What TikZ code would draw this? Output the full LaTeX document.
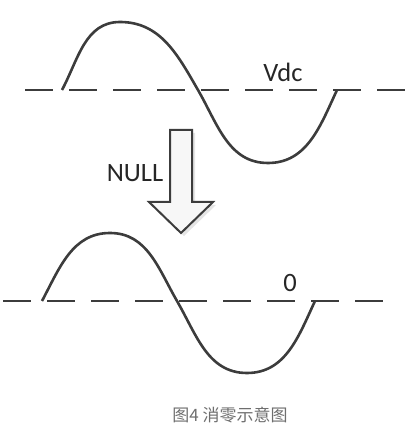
\documentclass[tikz,border=0pt]{standalone}
\usepackage{fontspec}
\setmainfont{Carlito}
\newfontfamily\cjk{Noto Sans CJK SC}
\definecolor{linegray}{HTML}{3C3C3C}
\definecolor{capgray}{HTML}{6E6E6E}
\tikzset{
  axis/.style={line width=2.8pt,linegray,dash pattern=on 28pt off 16pt},
  wave/.style={line width=2.6pt,linegray},
  lbl/.style={inner sep=0pt,text=black!85,font=\fontsize{26.5}{30}\selectfont},
}

\begin{document}
\begin{tikzpicture}[x=1pt,y=1pt]
  \useasboundingbox (0,0) rectangle (411,433);
  \draw[axis] (25,343) -- (405,343);
  \draw[wave] (62,343) to[out=62,in=180] (120,411) to[out=0,in=120] (198,343)
    to[out=-60,in=180] (268,270) to[out=0,in=-115] (337,343);
  \node[lbl] (vdc) at (283,361) {Vdc};
  \draw[axis] (3,132) -- (383,132);
  \draw[wave] (42,132) to[out=62,in=180] (110,200) to[out=0,in=120] (177,132)
    to[out=-60,in=180] (247,60) to[out=0,in=-115] (315,132);
  \node[lbl] (zero) at (290,150) {0};
  \node[lbl] (null) at (135,260) {NULL};
  \fill[black!10] (173,300) -- (195,300) -- (195,228) -- (216,228) -- (184,197)
    -- (152,228) -- (173,228) -- cycle;
  \draw[line width=2pt,linegray,fill=gray!6,line join=miter]
    (170,303) -- (192,303) -- (192,231) -- (213,231) -- (181,200)
    -- (149,231) -- (170,231) -- cycle;
  \node[inner sep=0pt,text=capgray,font=\cjk\fontsize{17}{20}\selectfont] (cap) at (230,18) {图4 消零示意图};
\end{tikzpicture}
\end{document}
